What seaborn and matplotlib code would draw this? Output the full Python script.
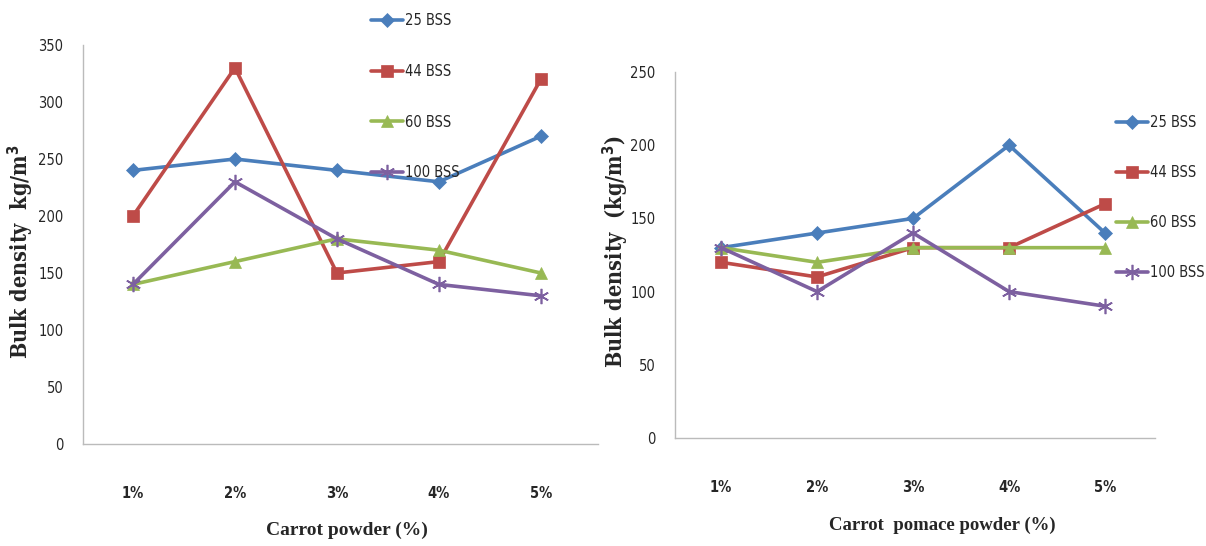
import matplotlib
matplotlib.use("Agg")
import matplotlib.pyplot as plt
import seaborn as sns
import pandas as pd

categories = ["1%", "2%", "3%", "4%", "5%"]
series_names = ["25 BSS", "44 BSS", "60 BSS", "100 BSS"]

left_25 = [240, 250, 240, 230, 270]
left_44 = [200, 330, 150, 160, 320]
left_60 = [140, 160, 180, 170, 150]
left_100 = [140, 230, 180, 140, 130]

right_25 = [130, 140, 150, 200, 140]
right_44 = [120, 110, 130, 130, 160]
right_60 = [130, 120, 130, 130, 130]
right_100 = [130, 100, 140, 100, 90]

left_yticks = [0, 50, 100, 150, 200, 250, 300, 350]
right_yticks = [0, 50, 100, 150, 200, 250]

colors = {"25 BSS": "#4A7EBB", "44 BSS": "#BE4B48", "60 BSS": "#98B954", "100 BSS": "#7D60A0"}
markers = {"25 BSS": "D", "44 BSS": "s", "60 BSS": "^", "100 BSS": (6, 2, 0)}
msizes = {"25 BSS": 7, "44 BSS": 9, "60 BSS": 9, "100 BSS": 11}


def long_df(vals):
    rows = []
    for name, v in zip(series_names, vals):
        for i, (c, y) in enumerate(zip(categories, v)):
            rows.append({"x": i, "cat": c, "y": y, "series": name})
    return pd.DataFrame(rows)


sns.set_style("white")
plt.rcParams["font.family"] = ["DejaVu Sans"]
plt.rcParams["font.stretch"] = "condensed"

fig = plt.figure(figsize=(12.06, 5.46), dpi=100)
axL = fig.add_axes([83 / 1206, 1 - 444 / 546, (598 - 83) / 1206, (444 - 45) / 546])
axR = fig.add_axes([675 / 1206, 1 - 438 / 546, (1155 - 675) / 1206, (438 - 72) / 546])

serif = ["Liberation Serif", "DejaVu Serif"]
yserif = ["DejaVu Serif"]


def draw(ax, vals, yticks, xlim, xlabel, ylabel, xl_size):
    df = long_df(vals)
    for name in series_names:
        sub = df[df.series == name]
        mk = markers[name]
        sns.lineplot(data=sub, x="x", y="y", ax=ax, color=colors[name], lw=2.6,
                     marker=mk, markersize=msizes[name],
                     markeredgecolor=colors[name],
                     markeredgewidth=1.2 if name == "100 BSS" else 0.5,
                     label=name, legend=False)
    ax.set_xlim(*xlim)
    ax.set_ylim(yticks[0], yticks[-1])
    ax.set_yticks(yticks)
    ax.set_yticklabels([str(t) for t in yticks], fontsize=10.5, fontstretch="condensed")
    ax.set_xticks(range(len(categories)))
    ax.set_xticklabels(categories, fontsize=10.5, fontstretch="condensed", fontweight="bold")
    ax.tick_params(axis="x", pad=30, length=0)
    ax.tick_params(axis="y", pad=14, length=0)
    for s in ["top", "right"]:
        ax.spines[s].set_visible(False)
    for s in ["left", "bottom"]:
        ax.spines[s].set_color("#BBBBBB")
        ax.spines[s].set_linewidth(1.0)
    ax.set_xlabel(xlabel, family=serif, fontsize=xl_size, fontweight="bold")
    ax.set_ylabel(ylabel, family=yserif, fontsize=15.5, fontweight="bold")


draw(axL, [left_25, left_44, left_60, left_100], left_yticks, (-0.49, 4.56),
     "Carrot powder (%)", "Bulk density  kg/m$^{\\mathbf{3}}$", 14)
draw(axR, [right_25, right_44, right_60, right_100], right_yticks, (-0.48, 4.52),
     "Carrot  pomace powder (%)", "Bulk density  (kg/m$^{\\mathbf{3}}$)", 13.5)

# label positions (axes fraction)
axL.xaxis.set_label_coords((347 - 83) / (598 - 83), -(530 - 444) / (444 - 45))
axL.yaxis.set_label_coords(-(83 - 21) / (598 - 83), (444 - 252) / (444 - 45))
axR.xaxis.set_label_coords((942 - 675) / (1155 - 675), -(525 - 438) / (438 - 72))
axR.yaxis.set_label_coords(-(675 - 616) / (1155 - 675), (438 - 252) / (438 - 72))
axL.xaxis.label.set_va("center")
axR.xaxis.label.set_va("center")
axL.yaxis.label.set_va("center")
axR.yaxis.label.set_va("center")

hL, lL = axL.get_legend_handles_labels()
legL = axL.legend(hL, lL, loc="upper left", bbox_to_anchor=(358 / 1206, 1 - 0 / 546),
                  bbox_transform=fig.transFigure, frameon=False, fontsize=10.5,
                  labelspacing=2.45, handlelength=2.2, handletextpad=0.1)
hR, lR = axR.get_legend_handles_labels()
legR = axR.legend(hR, lR, loc="upper left", bbox_to_anchor=(1103 / 1206, 1 - 102 / 546),
                  bbox_transform=fig.transFigure, frameon=False, fontsize=10.5,
                  labelspacing=2.4, handlelength=2.2, handletextpad=0.1)
for leg in (legL, legR):
    for t in leg.get_texts():
        t.set_fontstretch("condensed")

fig.savefig("out.png", dpi=100)
